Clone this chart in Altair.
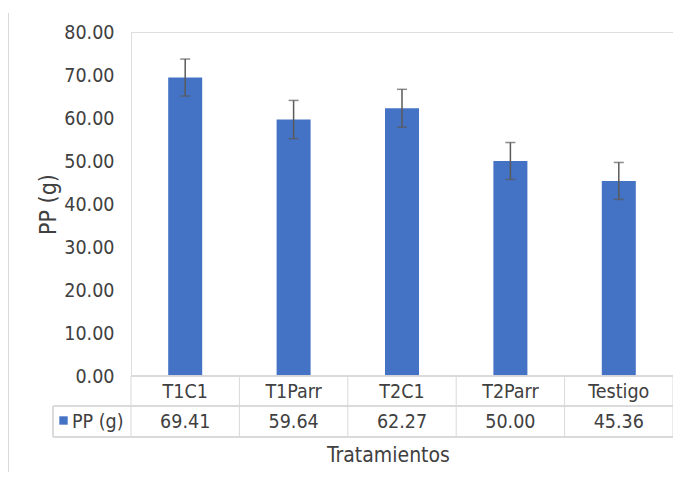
import altair as alt
import pandas as pd

categories = ["T1C1", "T1Parr", "T2C1", "T2Parr", "Testigo"]
values = [69.41, 59.64, 62.27, 50.00, 45.36]
errors = [4.3, 4.45, 4.4, 4.3, 4.3]
value_labels = ["69.41", "59.64", "62.27", "50.00", "45.36"]
y_ticks = [0, 10, 20, 30, 40, 50, 60, 70, 80]
series_name = "PP (g)"
x_title = "Tratamientos"
y_title = "PP (g)"

W, H = 542, 344
FONT = "DejaVu Sans Condensed, DejaVu Sans, sans-serif"
TXT = "#404040"
GRID = "#D9D9D9"
BLUE = "#4472C4"
FS = 19.5

df = pd.DataFrame({
    "cat": categories,
    "val": values,
    "lo": [v - e for v, e in zip(values, errors)],
    "hi": [v + e for v, e in zip(values, errors)],
    "lab": value_labels,
})
edges = pd.DataFrame({"e": list(range(len(categories) + 1))})

xenc = alt.X(
    "cat:N", sort=categories,
    scale=alt.Scale(paddingInner=0, paddingOuter=0),
    axis=alt.Axis(labels=False, ticks=False, domain=False, grid=False,
                  title=x_title, titleFont=FONT, titleFontSize=21,
                  titleFontWeight="normal", titleColor=TXT,
                  titleX=257, titleY=79, titleBaseline="middle"),
)
yenc = alt.Y(
    "val:Q",
    scale=alt.Scale(domain=[0, 80], nice=False),
    axis=alt.Axis(values=y_ticks, format=".2f", ticks=False, tickSize=0,
                  domain=False, grid=False, labelPadding=17,
                  labelFont=FONT, labelFontSize=FS, labelColor=TXT,
                  title=y_title, titleFont=FONT, titleFontSize=23,
                  titleFontWeight="normal", titleColor=TXT,
                  titleX=-83, titleY=H / 2, titleBaseline="middle",
                  titleAngle=270),
)

base = alt.Chart(df)

bars = base.mark_bar(size=34, color=BLUE).encode(x=xenc, y=yenc)

err = base.mark_rule(color="#5A5A5A", strokeWidth=1.5).encode(
    x=alt.X("cat:N", sort=categories), y="lo:Q", y2="hi:Q")
cap_hi = base.mark_tick(color="#5A5A5A", size=10, thickness=1.5,
                        orient="horizontal").encode(
    x=alt.X("cat:N", sort=categories), y="hi:Q")
cap_lo = base.mark_tick(color="#5A5A5A", size=10, thickness=1.5,
                        orient="horizontal").encode(
    x=alt.X("cat:N", sort=categories), y="lo:Q")

header = base.mark_text(font=FONT, fontSize=FS, color=TXT,
                        baseline="middle", align="center").encode(
    x=alt.X("cat:N", sort=categories), y=alt.value(H + 16), text="cat:N")
vals = base.mark_text(font=FONT, fontSize=FS, color=TXT,
                      baseline="middle", align="center").encode(
    x=alt.X("cat:N", sort=categories), y=alt.value(H + 45.5), text="lab:N")

line_top = base.mark_rule(color=GRID, strokeWidth=1).encode(
    x=alt.value(0), x2=alt.value(W), y=alt.value(H))
line_mid = base.mark_rule(color=GRID, strokeWidth=1).encode(
    x=alt.value(-78), x2=alt.value(W), y=alt.value(H + 30))
line_bot = base.mark_rule(color=GRID, strokeWidth=1).encode(
    x=alt.value(-78), x2=alt.value(W), y=alt.value(H + 61))
line_leg = base.mark_rule(color=GRID, strokeWidth=1).encode(
    x=alt.value(-78), y=alt.value(H + 30), y2=alt.value(H + 61))
border = base.mark_rule(color=GRID, strokeWidth=1).encode(
    x=alt.value(-122.5), y=alt.value(-19), y2=alt.value(470))

vlines = alt.Chart(edges).mark_rule(color=GRID, strokeWidth=1).encode(
    x=alt.X("e:Q", scale=alt.Scale(domain=[0, len(categories)], nice=False,
                                   zero=False), axis=None),
    y=alt.value(H), y2=alt.value(H + 61))

leg_sq = alt.Chart(pd.DataFrame({"s": [series_name]})).mark_square(
    size=70, color=BLUE, opacity=1, filled=True).encode(
    x=alt.value(-67.5), y=alt.value(H + 44.5))
leg_txt = alt.Chart(pd.DataFrame({"s": [series_name]})).mark_text(
    font=FONT, fontSize=FS, color=TXT, baseline="middle", align="left").encode(
    x=alt.value(-59), y=alt.value(H + 45.5), text="s:N")

main = alt.layer(bars, err, cap_hi, cap_lo, header, vals, line_top, line_mid,
                 line_bot, line_leg, border, leg_sq, leg_txt)
chart = alt.layer(main, vlines).resolve_scale(x="independent").properties(
    width=W, height=H,
    padding={"left": 123, "top": 24, "right": 0, "bottom": 96},
    autosize=alt.AutoSizeParams(type="none"),
).configure_view(stroke="transparent", strokeWidth=0).configure(background="white")

chart.save("out.html", embed_options={"renderer": "svg", "actions": False})
